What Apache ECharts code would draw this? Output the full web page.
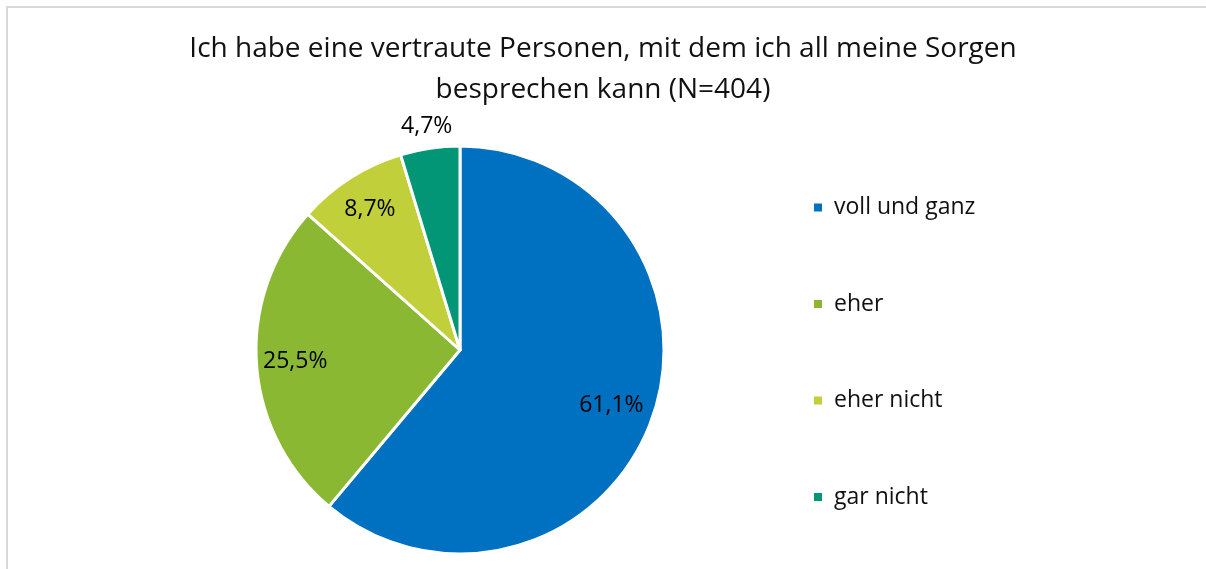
<!DOCTYPE html>
<html>
<head>
<meta charset="utf-8">
<script src="https://cdn.jsdelivr.net/npm/echarts@6/dist/echarts.min.js"></script>
<style>
  html, body { margin: 0; padding: 0; background: #fff; }
  #chart { width: 1206px; height: 569px; }
</style>
</head>
<body>
<div id="chart"></div>
<script>
// Answer categories and shares (percent)
const categories = ['voll und ganz', 'eher', 'eher nicht', 'gar nicht'];
const shares = [61.1, 25.5, 8.7, 4.7];
const sliceColors = ['#0070C0', '#8AB833', '#C0CF3A', '#029676'];
const titleLines = ['Ich habe eine vertraute Personen, mit dem ich all meine Sorgen', 'besprechen kann (N=404)'];

const FONT = '"Open Sans", "Noto Sans", sans-serif';
const CX = 460, CY = 350, R = 204;
// distance of each value label from the centre, as a multiple of the radius
const labelDist = [0.775, 0.795, 0.805, 1.095];

const fmt = v => v.toFixed(1).replace('.', ',') + '%';

const chart = echarts.init(document.getElementById('chart'));

const baseData = categories.map((name, i) => ({
  name, value: shares[i], itemStyle: { color: sliceColors[i] }
}));

// transparent pie whose "inside" label (placed at half the radius) lands at the wanted distance
function labelRing(idx) {
  return {
    type: 'pie',
    center: [CX, CY],
    radius: [0, R * labelDist[idx] * 2],
    startAngle: 90,
    clockwise: true,
    silent: true,
    legendHoverLink: false,
    emphasis: { disabled: true },
    itemStyle: { color: 'rgba(0,0,0,0)', borderWidth: 0 },
    label: {
      show: true, position: 'inside', color: '#000',
      fontFamily: FONT, fontSize: 23,
      formatter: p => fmt(p.value)
    },
    labelLine: { show: false },
    data: categories.map((name, i) => ({
      name, value: shares[i],
      itemStyle: { color: 'rgba(0,0,0,0)' },
      label: { show: i === idx }
    })),
    z: 3
  };
}

chart.setOption({
  animation: false,
  backgroundColor: '#fff',
  title: {
    text: titleLines.join('\n'),
    left: 'center',
    top: 24,
    textStyle: { fontFamily: FONT, fontSize: 28, fontWeight: 'normal', color: '#111', lineHeight: 41 }
  },
  legend: {
    orient: 'vertical',
    left: 807,
    top: 191,
    itemWidth: 10,
    itemHeight: 10,
    itemGap: 73.5,
    icon: 'rect',
    data: categories,
    textStyle: { fontFamily: FONT, fontSize: 23, color: '#111', lineHeight: 20, padding: [0, 0, 0, 6] },
    selectedMode: false
  },
  graphic: [{
    type: 'rect',
    shape: { x: 7, y: 7, width: 1400, height: 800 },
    style: { fill: 'none', stroke: '#d9d9d9', lineWidth: 2 },
    silent: true, z: -10
  }],
  series: [
    {
      type: 'pie',
      center: [CX, CY],
      radius: [0, R],
      startAngle: 90,
      clockwise: true,
      emphasis: { disabled: true },
      itemStyle: { borderColor: '#fff', borderWidth: 3 },
      label: { show: false },
      labelLine: { show: false },
      data: baseData,
      z: 2
    },
    ...categories.map((_, i) => labelRing(i))
  ]
});
</script>
</body>
</html>
